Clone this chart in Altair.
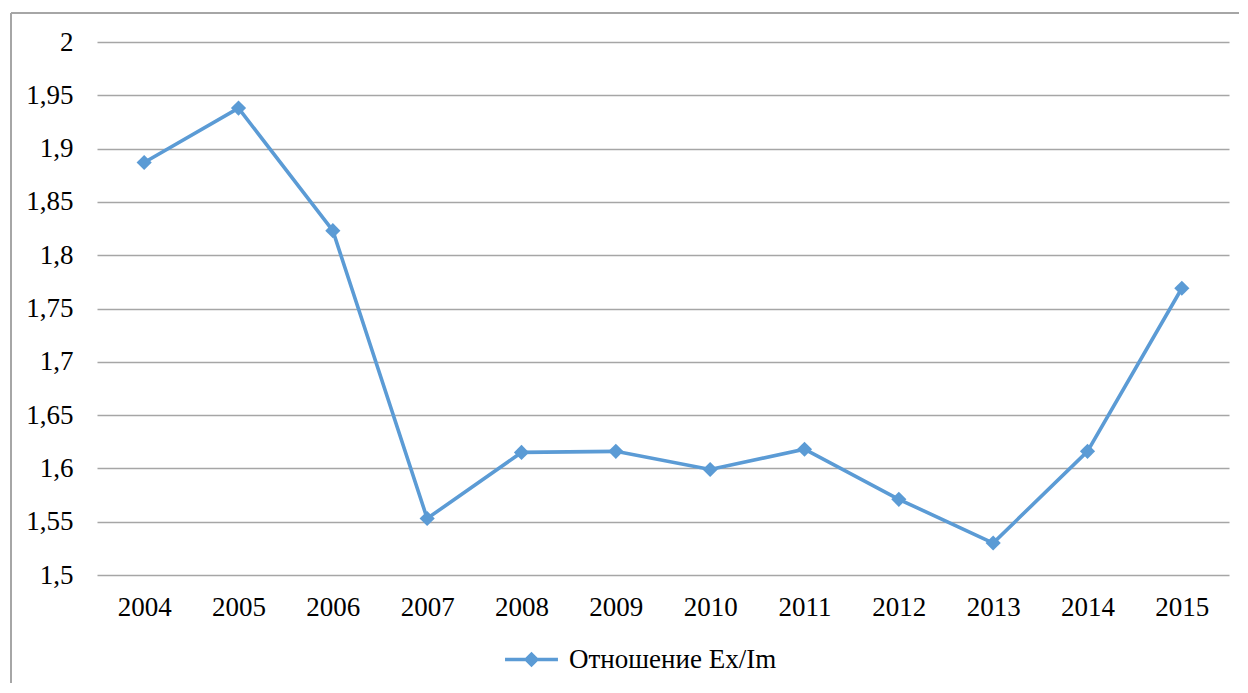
import altair as alt
import pandas as pd

years = ["2004", "2005", "2006", "2007", "2008", "2009", "2010", "2011", "2012", "2013", "2014", "2015"]
values = [1.887, 1.938, 1.823, 1.553, 1.615, 1.616, 1.599, 1.618, 1.571, 1.530, 1.616, 1.769]
series_name = "Отношение Ex/Im"
y_ticks = [1.5, 1.55, 1.6, 1.65, 1.7, 1.75, 1.8, 1.85, 1.9, 1.95, 2.0]

df = pd.DataFrame({"year": years, "value": values, "series": [series_name] * len(years)})

BLUE = "#5B9BD5"
GRID = "#A6A6A6"
FONT = "Liberation Serif"
FS = 27
W, H = 1132, 533

label_expr = "replace(format(datum.value, '.2~f'), '.', ',')"

base = alt.Chart(df).encode(
    x=alt.X("year:N", sort=years, title=None,
            scale=alt.Scale(paddingInner=0, paddingOuter=0, align=0.5),
            axis=alt.Axis(labelAngle=0, labelFont=FONT, labelFontSize=FS, labelColor="#000000",
                          labelPadding=19, ticks=False, domain=False, grid=False)),
    y=alt.Y("value:Q", title=None,
            scale=alt.Scale(domain=[1.5, 2.0], nice=False, zero=False),
            axis=alt.Axis(values=y_ticks, labelExpr=label_expr, labelFont=FONT, labelFontSize=FS,
                          labelColor="#000000", labelPadding=24, ticks=False, domain=False,
                          grid=True, gridColor=GRID, gridWidth=1.3)),
    color=alt.Color("series:N", title=None,
                    scale=alt.Scale(domain=[series_name], range=[BLUE]),
                    legend=alt.Legend(orient="none", legendX=406, legendY=589, direction="horizontal",
                                      labelFont=FONT, labelFontSize=FS, labelColor="#000000",
                                      labelLimit=500,
                                      symbolType="M-1,0L1,0M0,-0.2L0.2,0L0,0.2L-0.2,0Z",
                                      symbolSize=2800, symbolStrokeWidth=3.5,
                                      symbolFillColor=BLUE, symbolStrokeColor=BLUE,
                                      labelOffset=9, padding=0)),
)

line = base.mark_line(strokeWidth=3.6)
points = base.mark_point(shape="diamond", size=230, filled=True, opacity=1)

frame_top = alt.Chart(df).mark_rule(color=GRID, strokeWidth=1.3, clip=False).encode(
    x=alt.value(-86), x2=alt.value(W + 40), y=alt.value(-29))
frame_left = alt.Chart(df).mark_rule(color=GRID, strokeWidth=1.3, clip=False).encode(
    x=alt.value(-86), y=alt.value(-29), y2=alt.value(H + 160))

chart = alt.layer(frame_top, frame_left, line, points).properties(
    width=W, height=H,
    autosize=alt.AutoSizeParams(type="none"),
    padding={"left": 89, "top": 34, "right": 10, "bottom": 108},
    background="white",
).configure_view(stroke=None)

chart.save("out.html", embed_options={"renderer": "svg", "actions": False})
